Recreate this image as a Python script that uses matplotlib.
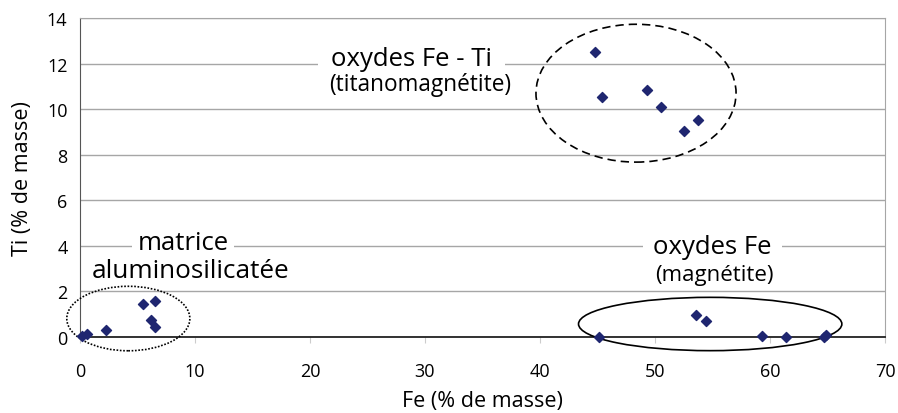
import matplotlib
matplotlib.use("Agg")
import matplotlib.pyplot as plt
from matplotlib.patches import Ellipse

plt.rcParams['font.family'] = ['Open Sans', 'DejaVu Sans']

# analyses ponctuelles (Fe, Ti en % de masse)
fe_matrice = [0.2, 0.6, 2.3, 5.45, 6.55, 6.17, 6.55]
ti_matrice = [0.06, 0.13, 0.31, 1.45, 1.59, 0.75, 0.42]

fe_titano = [44.8, 45.4, 49.3, 50.5, 52.5, 53.7]
ti_titano = [12.49, 10.52, 10.84, 10.1, 9.05, 9.54]

fe_magn = [45.1, 53.6, 54.4, 59.3, 61.4, 64.7, 64.9]
ti_magn = [0.01, 0.98, 0.72, 0.06, 0.01, 0.01, 0.09]

x_ticks = [0, 10, 20, 30, 40, 50, 60, 70]
y_ticks = [0, 2, 4, 6, 8, 10, 12, 14]

fig = plt.figure(figsize=(8.98, 4.14), dpi=100)
ax = fig.add_axes([0.0891, 0.1836, 0.8964, 0.7705])

fe = fe_matrice + fe_titano + fe_magn
ti = ti_matrice + ti_titano + ti_magn
ax.scatter(fe, ti, marker='D', s=26, color='#1f2670', zorder=5, clip_on=False)

ax.set_xlim(0, 70)
ax.set_ylim(0, 14)
ax.set_xticks(x_ticks)
ax.set_yticks(y_ticks)
ax.tick_params(axis='x', length=4, color='#cccccc', labelsize=13, pad=14)
ax.tick_params(axis='y', length=0, labelsize=13, pad=9)
ax.grid(axis='y', color='#a6a6a6', linewidth=1.0)
ax.set_axisbelow(True)
for s in ['top', 'right']:
    ax.spines[s].set_color('#a6a6a6')
ax.spines['left'].set_color('#555555')
ax.spines['bottom'].set_color('#222222')
ax.spines['bottom'].set_linewidth(1.3)

ax.set_xlabel('Fe (% de masse)', fontsize=15.5, labelpad=7)
ax.set_ylabel('Ti (% de masse)', fontsize=15.5, labelpad=10)

# regroupements
ax.add_patch(Ellipse((48.35, 10.7), 17.4, 6.05, fill=False, ls=(0, (5, 3)),
                     lw=1.2, color='black', zorder=4))
ax.add_patch(Ellipse((54.8, 0.57), 22.9, 2.34, fill=False, ls='-',
                     lw=1.2, color='black', zorder=4, clip_on=False))
ax.add_patch(Ellipse((4.2, 0.81), 10.7, 2.83, fill=False, ls=(0, (1, 1)),
                     lw=1.2, color='black', zorder=4, clip_on=False))

def boite(p):
    return dict(boxstyle='square,pad=%s' % p, facecolor='white', edgecolor='none')

ax.text(28.8, 11.95, 'oxydes Fe - Ti', fontsize=18.5, ha='center', va='baseline',
        bbox=boite(0.5), zorder=3)
ax.text(29.6, 10.85, '(titanomagnétite)', fontsize=16.3, ha='center', va='baseline', zorder=3)

ax.text(8.96, 3.86, 'matrice', fontsize=18.5, ha='center', va='baseline',
        bbox=boite(0.2), zorder=3)
ax.text(9.65, 2.63, 'aluminosilicatée', fontsize=18.8, ha='center', va='baseline', zorder=3)

ax.text(55.0, 3.69, 'oxydes Fe', fontsize=18.5, ha='center', va='baseline',
        bbox=boite(0.4), zorder=3)
ax.text(55.2, 2.5, '(magnétite)', fontsize=16, ha='center', va='baseline', zorder=3)

fig.savefig('out.png', dpi=100)
